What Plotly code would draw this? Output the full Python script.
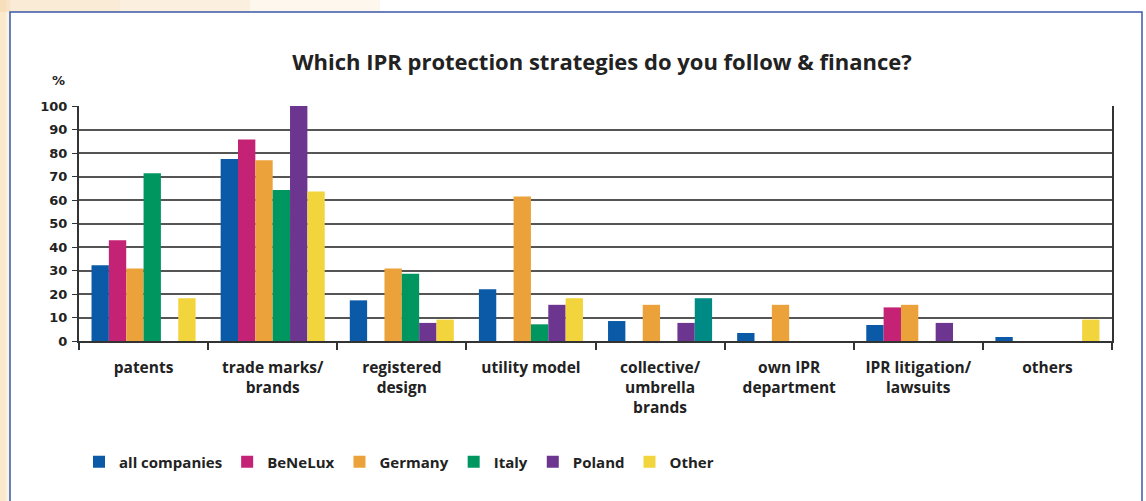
import plotly.graph_objects as go

categories = ["patents", "trade marks/<br>brands", "registered<br>design", "utility model",
              "collective/<br>umbrella<br>brands", "own IPR<br>department",
              "IPR litigation/<br>lawsuits", "others"]

all_companies = [32.2, 77.5, 17.3, 22.0, 8.5, 3.4, 6.8, 1.7]
benelux = [42.9, 85.7, 0, 0, 0, 0, 14.3, 0]
germany = [30.8, 76.9, 30.8, 61.5, 15.4, 15.4, 15.4, 0]
italy = [71.4, 64.3, 28.6, 7.1, 0, 0, 0, 0]
poland = [0, 100, 7.7, 15.4, 7.7, 0, 7.7, 0]
other = [18.2, 63.6, 9.1, 18.2, 18.2, 0, 0, 9.1]

series_names = ["all companies", "BeNeLux", "Germany", "Italy", "Poland", "Other"]
series_values = [all_companies, benelux, germany, italy, poland, other]
series_colors = ["#0b5aa8", "#c42275", "#eca23a", "#00965f", "#6b3590", "#f2d53c"]
other_bar_colors = ["#f2d53c"] * 4 + ["#008a85"] + ["#f2d53c"] * 3

fig = go.Figure()
for name, vals, col in zip(series_names, series_values, series_colors):
    marker_color = other_bar_colors if name == "Other" else col
    fig.add_trace(go.Bar(name=name, x=categories, y=vals,
                         marker=dict(color=marker_color, line=dict(width=0))))

# plot area in pixels: left 79, right 1112, top 106, bottom 341
W, H = 1146, 501
L, R, T, B = 79, 1112, 106, 341
pw, ph = R - L, B - T

def px_x(x):
    return (x - L) / pw

def px_y(y):
    return (B - y) / ph

shapes = []
# soft beige background hints outside the frame (left strip and top-left corner)
for x1, op in [(10, 0.35), (6, 0.35)]:
    shapes.append(dict(type="rect", xref="paper", yref="paper", x0=px_x(0), x1=px_x(x1),
                       y0=px_y(505), y1=px_y(0), fillcolor="#f5d9a8",
                       line=dict(width=0), layer="below", opacity=op))
for x1, op in [(380, 0.2), (250, 0.2), (120, 0.2)]:
    shapes.append(dict(type="rect", xref="paper", yref="paper", x0=px_x(0), x1=px_x(x1),
                       y0=px_y(12), y1=px_y(0), fillcolor="#f5d9a8",
                       line=dict(width=0), layer="below", opacity=op))
# white frame with blue border
shapes.append(dict(type="rect", xref="paper", yref="paper", x0=px_x(10), x1=px_x(1142),
                   y0=px_y(505), y1=px_y(12), fillcolor="white",
                   line=dict(color="#3a58a8", width=1.5), layer="below"))

fig.update_layout(
    width=W, height=H,
    margin=dict(l=L, r=W - R, t=T, b=H - B, autoexpand=False),
    paper_bgcolor="white", plot_bgcolor="rgba(0,0,0,0)",
    barmode="group", bargap=0.194, bargroupgap=0,
    title=dict(text="<b>Which IPR protection strategies do you follow &amp; finance?</b>",
               x=px_x(602), xref="paper", xanchor="center",
               y=1 - 62 / H, yanchor="middle",
               font=dict(family="Open Sans", size=22, color="#222222")),
    font=dict(family="Open Sans", color="#222222"),
    xaxis=dict(showline=True, linecolor="#333333", linewidth=2, ticks="outside", ticklen=7,
               tickcolor="#333333", tickwidth=1.5, tickson="boundaries",
               tickfont=dict(family="Open Sans", size=15.5, weight="bold", color="#222222"),
               ticklabelstandoff=11, showgrid=False),
    yaxis=dict(range=[0, 100], dtick=10, showline=True, linecolor="#333333", linewidth=2,
               mirror=True, ticks="outside", ticklen=5, tickcolor="#333333",
               showgrid=True, gridcolor="#555555", gridwidth=1.5, zeroline=False,
               tickfont=dict(family="DejaVu Sans", size=13, weight="bold", color="#222222"),
               ticklabelstandoff=2),
    legend=dict(orientation="h", x=px_x(79), xanchor="left", y=px_y(462), yanchor="middle",
                font=dict(family="Open Sans", size=15, weight="bold", color="#222222"),
                bgcolor="rgba(0,0,0,0)", traceorder="normal"),
    shapes=shapes,
    annotations=[dict(text="<b>%</b>", xref="paper", yref="paper", x=px_x(58), y=px_y(80),
                      showarrow=False, xanchor="center", yanchor="middle",
                      font=dict(family="DejaVu Sans", size=13, color="#222222"))],
)

fig.write_html("out.html", config={"displayModeBar": False},
               post_script="document.body.style.margin='0';")
